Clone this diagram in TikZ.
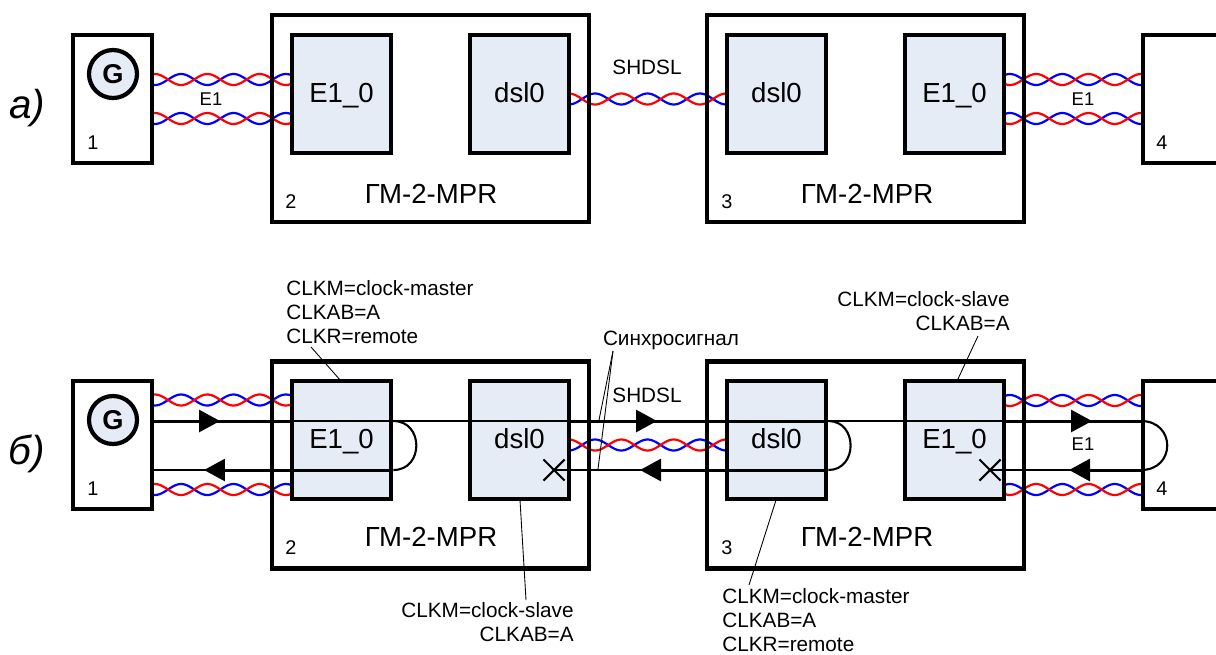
\documentclass[tikz,border=0pt]{standalone}
\usepackage{fontspec}
\setmainfont{Liberation Sans}
\usetikzlibrary{arrows.meta,shapes.misc}
\definecolor{blockfill}{HTML}{E5ECF6}
\newcommand{\twistpair}[4]{% start, end, middle y, first crossing with red going down
	\draw[twistline, blue, domain=#1:#2] plot (\x, {#3-5.5*sin((\x-#4)/26.2*180)});
	\draw[twistline, red, domain=#1:#2] plot (\x, {#3+5.5*sin((\x-#4)/26.2*180)});
}
\newcommand{\twistpairup}[4]{% the same with red going up
	\draw[twistline, blue, domain=#1:#2] plot (\x, {#3+5.5*sin((\x-#4)/26.2*180)});
	\draw[twistline, red, domain=#1:#2] plot (\x, {#3-5.5*sin((\x-#4)/26.2*180)});
}
\tikzset{
	twistline/.style={line width=1.25pt, samples=80},
	outerbox/.style={draw, line width=2.3pt, minimum width=317*0.02cm, minimum height=207*0.02cm, inner sep=0pt},
	endbox/.style={draw, line width=2.3pt, minimum height=128*0.02cm, inner sep=0pt},
	blockbox/.style={draw, fill=blockfill, line width=2.7pt, minimum width=99*0.02cm, minimum height=118*0.02cm, inner sep=0pt, text height=10.2pt, text depth=0pt, font=\fontsize{15.7}{18}\selectfont},
	genbox/.style={circle, draw, fill=blockfill, line width=2.4pt, minimum size=48*0.02cm, inner sep=0pt, font=\fontsize{15.5}{18}\selectfont\bfseries},
	bigtext/.style={inner sep=0pt, font=\fontsize{15.7}{18}\selectfont},
	midtext/.style={inner sep=0pt, font=\fontsize{11.8}{13.8}\selectfont},
	smalltext/.style={inner sep=0pt, font=\fontsize{10.5}{12}\selectfont},
	digittext/.style={inner sep=0pt, font=\fontsize{11.3}{13}\selectfont},
	rowtext/.style={inner sep=0pt, font=\fontsize{23}{26}\selectfont\itshape},
	sigthick/.style={line width=1.7pt},
	sigthin/.style={line width=1.25pt},
	loopline/.style={line width=1.2pt},
	leader/.style={line width=0.5pt},
	crossmark/.style={cross out, draw, line width=1.2pt, minimum size=19*0.02cm, inner sep=0pt},
	>={Triangle[length=4.2mm,width=4.4mm]}
}
\begin{document}
\begin{tikzpicture}[x=0.02cm, y=-0.02cm]
	% Рамка рисунка, блок 4 обрезан справа
	\path[use as bounding box, clip] (0,0) rectangle (1216,654);

	% Витые пары, схема а
	\twistpair{152}{292}{79.5}{168}
	\twistpair{152}{292}{118.5}{168}
	\twistpair{569}{727}{99}{582}
	\twistpairup{1005}{1143}{79.5}{1023}
	\twistpairup{1005}{1143}{118.5}{1023}

	% Витые пары, схема б
	\twistpair{152}{292}{400}{168}
	\twistpair{152}{292}{489.5}{168}
	\twistpair{569}{727}{445}{582}
	\twistpairup{1005}{1143}{400.5}{1023}
	\twistpairup{1005}{1143}{489.5}{1023}

	% Блоки схемы а
	\node[endbox, minimum width=79*0.02cm] (unita) at (112.5,99) {};
	\node[genbox] (gena) at (113,74) {G};
	\node[outerbox] (mpra) at (430.5,118.5) {};
	\node[blockbox] (eleft) at (341.5,94) {E1\_0};
	\node[blockbox] (dleft) at (519.5,94) {dsl0};
	\node[outerbox] (mprb) at (865.5,118.5) {};
	\node[blockbox] (dright) at (776.5,94) {dsl0};
	\node[blockbox] (eright) at (954.5,94) {E1\_0};
	\node[endbox, minimum width=120*0.02cm] (farma) at (1203,99) {};

	% Подписи схемы а
	\node[rowtext] (rowa) at (27,108) {а)};
	\node[digittext] (onea) at (93,143) {1};
	\node[digittext] (twoa) at (291,202) {2};
	\node[digittext] (threea) at (727,202) {3};
	\node[digittext] (foura) at (1162,143) {4};
	\node[smalltext] (lineal) at (211,99) {E1};
	\node[smalltext] (lineal2) at (1083,99) {E1};
	\node[midtext] (shdsla) at (647,67) {SHDSL};
	\node[bigtext] (namela) at (431,194) {ГМ-2-MPR};
	\node[bigtext] (namera) at (867,194) {ГМ-2-MPR};

	% Блоки схемы б
	\node[endbox, minimum width=79*0.02cm] (unitb) at (112.5,445) {};
	\node[genbox] (genb) at (113,420) {G};
	\node[outerbox] (mprc) at (430.5,465) {};
	\node[blockbox] (ecl) at (341.5,440) {E1\_0};
	\node[blockbox] (dcl) at (519.5,440) {dsl0};
	\node[outerbox] (mprd) at (865.5,465) {};
	\node[blockbox] (dcr) at (776.5,440) {dsl0};
	\node[blockbox] (ecr) at (954.5,440) {E1\_0};
	\node[endbox, minimum width=120*0.02cm] (farmb) at (1203,445) {};
	\node[crossmark] (xdsl) at (554,470) {};
	\node[crossmark] (xel) at (990,470) {};

	% Точки входа и выхода синхросигнала
	\coordinate (ua) at (unitb.east |- 0,421);
	\coordinate (la) at (unitb.east |- 0,470);
	\coordinate (ub) at (ecl.west |- 0,421);
	\coordinate (uc) at (ecl.east |- 0,421);
	\coordinate (lc) at (ecl.east |- 0,470);
	\coordinate (ud) at (dcl.east |- 0,421);
	\coordinate (ue) at (dcr.east |- 0,421);
	\coordinate (le) at (dcr.east |- 0,470);
	\coordinate (uf) at (ecr.east |- 0,421);
	\coordinate (lf) at (ecr.east |- 0,470);
	\coordinate (ug) at (farmb.west |- 0,421);
	\coordinate (lg) at (farmb.west |- 0,470);

	% Прямой ход
	\draw[sigthick] (ua) -- (ub);
	\draw[sigthick, ->] (ua) -- (220,421);
	\draw[sigthin] (ub) -- (ud);
	\draw[sigthick] (ud) -- (ue);
	\draw[sigthick, ->] (ud) -- (657,421);
	\draw[sigthin] (ue) -- (uf);
	\draw[sigthick] (uf) -- (ug);
	\draw[sigthick, ->] (uf) -- (1092,421);

	% Шлейфы
	\draw[loopline] (uc) .. controls (424,421) and (424,470) .. (lc);
	\draw[loopline] (ue) .. controls (858,421) and (858,470) .. (le);
	\draw[loopline] (ug) .. controls (1176,421) and (1176,470) .. (lg);

	% Обратный ход
	\draw[sigthin] (la) -- (lc);
	\draw[sigthick, ->] (lc) -- (204,470);
	\draw[sigthin] (le) -- (xdsl.center);
	\draw[sigthick, ->] (le) -- (640,470);
	\draw[sigthin] (lg) -- (xel.center);
	\draw[sigthick, ->] (lg) -- (1069,470);

	% Подписи схемы б
	\node[rowtext] (rowb) at (27,454) {б)};
	\node[digittext] (oneb) at (93,489) {1};
	\node[digittext] (twob) at (291,548) {2};
	\node[digittext] (threeb) at (727,548) {3};
	\node[digittext] (fourb) at (1162,489) {4};
	\node[smalltext] (linebl) at (1083,444) {E1};
	\node[midtext] (shdslb) at (647,395) {SHDSL};
	\node[bigtext] (namelb) at (431,537) {ГМ-2-MPR};
	\node[bigtext] (namerb) at (867,537) {ГМ-2-MPR};
	\node[midtext, anchor=west, align=left] (masterl) at (286,312) {CLKM=clock-master\\CLKAB=A\\CLKR=remote};
	\node[midtext, anchor=east, align=right] (slaver) at (1010,311) {CLKM=clock-slave\\CLKAB=A};
	\node[midtext, anchor=east, align=right] (slavel) at (574,622) {CLKM=clock-slave\\CLKAB=A};
	\node[midtext, anchor=west, align=left] (masterr) at (722,620) {CLKM=clock-master\\CLKAB=A\\CLKR=remote};
	\node[midtext] (syncl) at (671,340) {Синхросигнал};

	% Выноски
	\coordinate (syncp) at (613,351);
	\draw[leader] (311,347) -- (341,381);
	\draw[leader] (978,336) -- (957,381);
	\draw[leader] (520,500) -- (526,600);
	\draw[leader] (776,500) -- (749,585);
	\draw[leader] (syncp) -- (599,420);
	\draw[leader] (syncp) -- (598,469);
\end{tikzpicture}
\end{document}
